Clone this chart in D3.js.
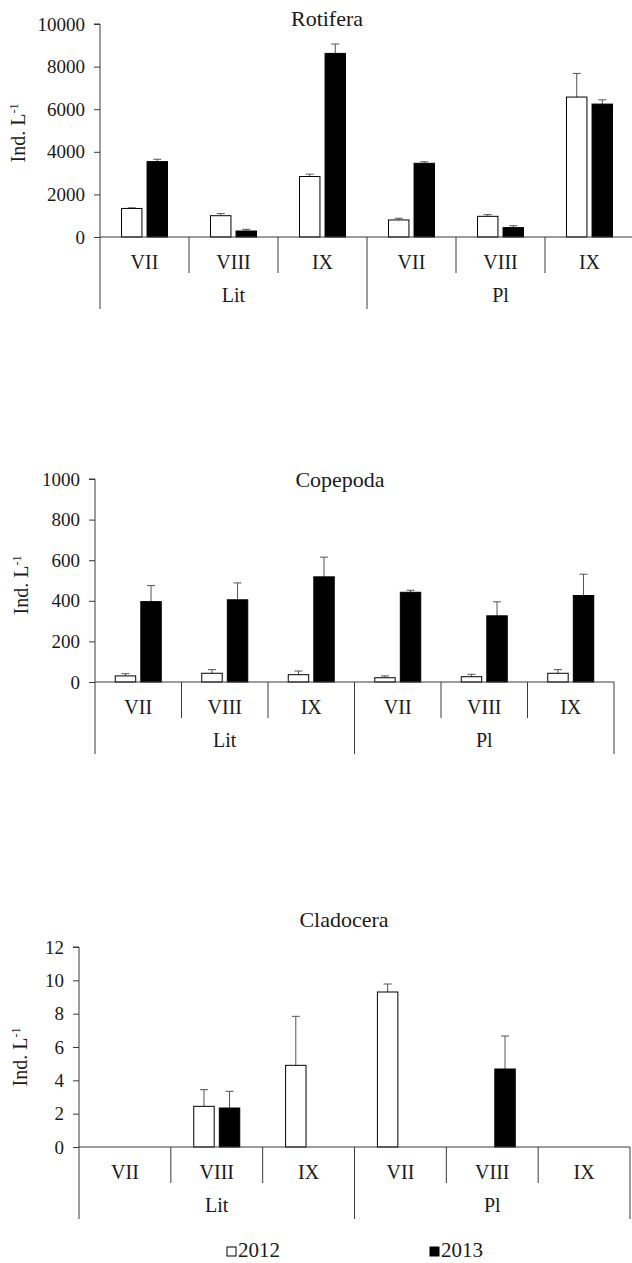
<!DOCTYPE html>
<html>
<head>
<meta charset="utf-8">
<script src="https://cdn.jsdelivr.net/npm/d3@7"></script>
<style>
  html, body { margin: 0; padding: 0; background: #fff; }
  svg { display: block; }
  text { font-family: "Liberation Serif", "Times New Roman", serif; fill: #1a1a1a; }
</style>
</head>
<body>
<svg id="chart" width="632" height="1263"></svg>
<script>
// ---------- data ----------
const groups = ["Lit", "Pl"];
const months = ["VII", "VIII", "IX"];
const years = ["2012", "2013"];
const yLabel = "Ind. L";

const rotiferaTicks = [0, 2000, 4000, 6000, 8000, 10000];
const rotifera2012 = [1340, 1000, 2840, 800, 970, 6570];
const rotifera2012Err = [30, 100, 110, 80, 80, 1110];
const rotifera2013 = [3540, 280, 8620, 3460, 440, 6240];
const rotifera2013Err = [110, 80, 440, 70, 90, 200];

const copepodaTicks = [0, 200, 400, 600, 800, 1000];
const copepoda2012 = [30, 43, 36, 21, 26, 43];
const copepoda2012Err = [11, 18, 18, 9, 12, 18];
const copepoda2013 = [396, 405, 518, 442, 326, 426];
const copepoda2013Err = [79, 83, 97, 10, 69, 105];

const cladoceraTicks = [0, 2, 4, 6, 8, 10, 12];
const cladocera2012 = [0, 2.44, 4.9, 9.3, 0, 0];
const cladocera2012Err = [0, 1.0, 2.94, 0.48, 0, 0];
const cladocera2013 = [0, 2.34, 0, 0, 4.68, 0];
const cladocera2013Err = [0, 1.0, 0, 0, 1.98, 0];

// ---------- drawing ----------
const svg = d3.select("#chart");
const axisColor = "#3a3a3a";
const errColor = "#555";

const categories = [];
groups.forEach(g => months.forEach(m => categories.push(g + "|" + m)));

function drawPanel(p) {
  const gPanel = svg.append("g");
  const x = d3.scaleBand().domain(categories).range([p.x0, p.x1]).paddingInner(0).paddingOuter(0);
  const xg = d3.scaleBand().domain(groups).range([p.x0, p.x1]);
  const xi = d3.scaleBand().domain(years).range([-23, 23]).paddingInner(0.2);
  const y = d3.scaleLinear().domain([0, p.ticks[p.ticks.length - 1]]).range([p.yBase, p.yTop]);

  // y axis
  const ax = gPanel.append("g")
    .attr("transform", `translate(${p.x0},0)`)
    .call(d3.axisLeft(y).tickValues(p.ticks).tickSize(6).tickPadding(9).tickFormat(d3.format("d")));
  ax.select(".domain").attr("stroke", axisColor).attr("d", `M-6,${y(p.ticks[p.ticks.length-1])}H0V${p.yBase}`);
  ax.selectAll(".tick line").attr("stroke", axisColor);
  ax.selectAll(".tick text").style("font-family", '"Liberation Serif", serif').style("font-size", "19px").attr("fill", "#1a1a1a");

  // bars
  const series = [
    { year: "2012", vals: p.v2012, errs: p.e2012, fill: "#fff" },
    { year: "2013", vals: p.v2013, errs: p.e2013, fill: "#000" }
  ];
  series.forEach(s => {
    s.vals.forEach((v, i) => {
      if (v <= 0) return;
      const cx = x(categories[i]) + x.bandwidth() / 2;
      const bx = cx + xi(s.year);
      const bw = xi.bandwidth();
      // error bar
      const e = s.errs[i];
      if (e > 0) {
        const mid = bx + bw / 2;
        gPanel.append("line").attr("x1", mid).attr("x2", mid)
          .attr("y1", y(v)).attr("y2", y(v + e)).attr("stroke", errColor).attr("stroke-width", 1);
        gPanel.append("line").attr("x1", mid - 4).attr("x2", mid + 4)
          .attr("y1", y(v + e)).attr("y2", y(v + e)).attr("stroke", errColor).attr("stroke-width", 1);
      }
      gPanel.append("rect")
        .attr("x", bx).attr("y", y(v))
        .attr("width", bw).attr("height", p.yBase - y(v))
        .attr("fill", s.fill).attr("stroke", "#000").attr("stroke-width", 1);
    });
  });

  // x axis baseline
  gPanel.append("line").attr("x1", p.x0).attr("x2", p.x1)
    .attr("y1", p.yBase).attr("y2", p.yBase).attr("stroke", axisColor).attr("stroke-width", 1);

  // separators
  categories.forEach((c, i) => {
    if (i === 0) return;
    const isGroup = (i % months.length) === 0;
    const xx = x(c);
    gPanel.append("line").attr("x1", xx).attr("x2", xx)
      .attr("y1", p.yBase).attr("y2", p.yBase + (isGroup ? 72 : 36))
      .attr("stroke", axisColor).attr("stroke-width", 1);
  });
  [p.x0, p.x1].forEach(xx => {
    gPanel.append("line").attr("x1", xx).attr("x2", xx)
      .attr("y1", p.yBase).attr("y2", p.yBase + 72)
      .attr("stroke", axisColor).attr("stroke-width", 1);
  });

  // month labels
  categories.forEach(c => {
    gPanel.append("text")
      .attr("x", x(c) + x.bandwidth() / 2).attr("y", p.yBase + 32)
      .attr("text-anchor", "middle").style("font-size", "20px")
      .text(c.split("|")[1]);
  });
  // group labels
  groups.forEach(g => {
    gPanel.append("text")
      .attr("x", xg(g) + xg.bandwidth() / 2).attr("y", p.yBase + 65)
      .attr("text-anchor", "middle").style("font-size", "20px")
      .text(g);
  });

  // title
  gPanel.append("text").attr("x", p.titleX).attr("y", p.titleY)
    .attr("text-anchor", "middle").style("font-size", "22px").text(p.title);

  // y label
  const yl = gPanel.append("text")
    .attr("transform", `translate(${p.labelX},${p.labelY}) rotate(-90)`)
    .attr("text-anchor", "middle").style("font-size", "20px");
  yl.append("tspan").text(yLabel);
  yl.append("tspan").attr("dy", -7).style("font-size", "12px").text("-1");
}

drawPanel({
  title: "Rotifera", titleX: 327, titleY: 26,
  x0: 100, x1: 634, yTop: 24, yBase: 237,
  ticks: rotiferaTicks,
  v2012: rotifera2012, e2012: rotifera2012Err,
  v2013: rotifera2013, e2013: rotifera2013Err,
  labelX: 25, labelY: 133
});

drawPanel({
  title: "Copepoda", titleX: 340, titleY: 487,
  x0: 95, x1: 614, yTop: 479, yBase: 682,
  ticks: copepodaTicks,
  v2012: copepoda2012, e2012: copepoda2012Err,
  v2013: copepoda2013, e2013: copepoda2013Err,
  labelX: 28, labelY: 585
});

drawPanel({
  title: "Cladocera", titleX: 344, titleY: 927,
  x0: 79, x1: 630, yTop: 947, yBase: 1147,
  ticks: cladoceraTicks,
  v2012: cladocera2012, e2012: cladocera2012Err,
  v2013: cladocera2013, e2013: cladocera2013Err,
  labelX: 27, labelY: 1057
});

// legend
const legend = svg.append("g");
const legendItems = [
  { year: years[0], fill: "#fff", x: 227 },
  { year: years[1], fill: "#000", x: 430 }
];
legendItems.forEach(it => {
  legend.append("rect").attr("x", it.x).attr("y", 1247).attr("width", 9).attr("height", 9)
    .attr("fill", it.fill).attr("stroke", "#000").attr("stroke-width", 1);
  legend.append("text").attr("x", it.x + 11).attr("y", 1257)
    .style("font-size", "21px").text(it.year);
});
</script>
</body>
</html>
